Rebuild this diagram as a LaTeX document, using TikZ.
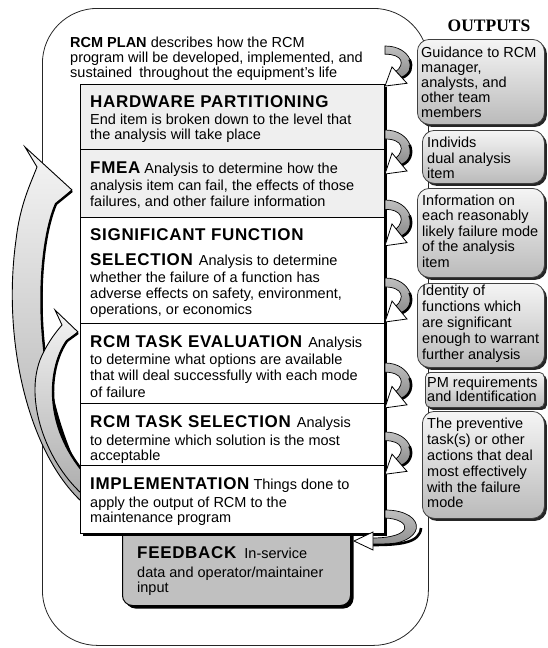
\documentclass[tikz,border=0pt]{standalone}
\usepackage{fontspec}
\setmainfont{Liberation Sans}
\newfontfamily\hfont{Liberation Sans}[LetterSpace=4]
\newfontfamily\outfont{Liberation Serif}
\usetikzlibrary{shadows}
\definecolor{hwgray}{HTML}{EFEFEF}
\definecolor{fbgray}{HTML}{C0C0C0}
\newcommand\hb[1]{{\hfont\fontsize{17}{18}\selectfont\bfseries #1}}
\newcommand\ltxt[4]{\node[txt] (#1) at (#2,#3) {#4};}
\newcommand\rarr[2]{%
\begin{scope}[shift={(386,#1)}, yscale=#2]
\shadedraw[top color=black!25, bottom color=black!45, draw=black, line width=0.7pt] (-1,0) .. controls (26,0) and (33,28) .. (16,35) -- (10,28) .. controls (19,20) and (17,9) .. (-1,9) -- cycle;
\draw[line width=2.6pt] (23.6,14.9) .. controls (27,22.75) and (24.5,31.5) .. (16,35);
\filldraw[fill=white, draw=black, line width=0.8pt] (6,23) -- (-1,44) -- (21,41) -- cycle;
\end{scope}}
\tikzset{
 txt/.style={anchor=base west, inner sep=0pt, font=\fontsize{14.5}{15}\selectfont},
 sect/.style={draw=black, line width=1pt, anchor=north west, minimum width=304pt, inner sep=0pt, outer sep=0pt},
 outbox/.style={draw=black!75, line width=0.8pt, rounded corners=12pt, top color=white!96!black, bottom color=black!27, anchor=north west, inner sep=0pt,
   drop shadow={shadow xshift=2.5pt, shadow yshift=-2.5pt, fill=black!85, opacity=1}},
 bigarrow/.style={top color=black!4, bottom color=black!32, draw=black, line width=0.9pt},
}
\begin{document}
\begin{tikzpicture}[x=1pt,y=-1pt]
\useasboundingbox (0,0) rectangle (547,648);
% outer frame
\node[draw=black!85, line width=0.8pt, rounded corners=55pt, minimum width=386pt, minimum height=637pt, anchor=north west, inner sep=0pt] (frame) at (42,8) {};
% OUTPUTS heading
\node[anchor=base, inner sep=0pt, font={\outfont\bfseries\fontsize{17.5}{18}\selectfont}] (outputs) at (489,31) {OUTPUTS};
% feedback box
\node[draw=black, line width=1pt, fill=fbgray, rounded corners=10pt, anchor=north west, minimum width=228pt, minimum height=88pt, inner sep=0pt,
  drop shadow={shadow xshift=3pt, shadow yshift=-3pt, fill=black, opacity=1}] (fbbox) at (122,517) {};
% big left arrows
\shadedraw[bigarrow] (82,502) .. controls (28,452) and (2,340) .. (16,240) .. controls (20,205) and (30,185) .. (37,167) -- (25,147) -- (72,190) -- (56,204) .. controls (36,250) and (30,380) .. (82,478) -- cycle;
\draw[line width=2.4pt] (72,191) -- (56,204) .. controls (36,250) and (30,380) .. (82,478);
\shadedraw[bigarrow] (82,494) .. controls (45,460) and (25,400) .. (40,360) .. controls (46,345) and (55,333) .. (62,325) -- (55,310) -- (78,332) -- (67,341) .. controls (50,365) and (42,420) .. (82,470) -- cycle;
\draw[line width=2.4pt] (78,333) -- (67,341) .. controls (50,365) and (42,420) .. (82,470);
% main stacked box
\fill (83,87) rectangle (387,536);
\node[sect, fill=hwgray, minimum height=65pt] (hw) at (80,84) {};
\node[sect, fill=hwgray, minimum height=68pt] (fmea) at (80,149) {};
\node[sect, fill=white, minimum height=106pt] (sig) at (80,217) {};
\node[sect, fill=white, minimum height=80pt] (te) at (80,323) {};
\node[sect, fill=white, minimum height=62pt] (ts) at (80,403) {};
\node[sect, fill=white, minimum height=68pt] (impl) at (80,465) {};
% output boxes
\node[outbox, minimum width=127pt, minimum height=85pt] (o1) at (417,39) {};
\node[outbox, minimum width=122pt, minimum height=53pt] (o2) at (422,130) {};
\node[outbox, minimum width=127pt, minimum height=89pt] (o3) at (417,188) {};
\node[outbox, minimum width=127pt, minimum height=84pt] (o4) at (417,283) {};
\node[outbox, rounded corners=5pt, minimum width=119pt, minimum height=35pt] (o5) at (425,372) {};
\node[outbox, minimum width=122pt, minimum height=107pt] (o6) at (422,411) {};
% right curved arrows
\rarr{46}{0.91}
\rarr{130}{1}
\rarr{200}{1.04}
\rarr{278}{1}
\rarr{363}{1.02}
\rarr{432}{0.96}
\shadedraw[top color=black!25, bottom color=black!45, draw=black, line width=0.7pt] (385,510) .. controls (428,510) and (430,547) .. (372,545) -- (372,538) .. controls (415,538) and (412,519) .. (385,518) -- cycle;
\draw[line width=2.6pt] (421,528) .. controls (420,543) and (400,545) .. (372,545);
\filldraw[fill=white, draw=black, line width=0.8pt] (373,532) -- (354,541) -- (373,550) -- cycle;
% texts
\ltxt{p1}{70}{47}{\textbf{RCM PLAN} describes how the RCM}
\ltxt{p2}{70}{62}{program will be developed, implemented, and}
\ltxt{p3}{70}{77}{sustained\hspace{3pt} throughout the equipment’s life}
\ltxt{hw1}{90}{107}{\hb{HARDWARE PARTITIONING}}
\ltxt{hw2}{90}{124}{End item is broken down to the level that}
\ltxt{hw3}{90}{139}{the analysis will take place}
\ltxt{fm1}{90}{173}{\hb{FMEA} Analysis to determine how the}
\ltxt{fm2}{90}{190}{analysis item can fail, the effects of those}
\ltxt{fm3}{90}{206}{failures, and other failure information}
\ltxt{sg1}{90}{240}{\hb{SIGNIFICANT FUNCTION}}
\ltxt{sg2}{90}{265}{\hb{SELECTION}\hspace{2pt} Analysis to determine}
\ltxt{sg3}{90}{282}{whether the failure of a function has}
\ltxt{sg4}{90}{298}{adverse effects on safety, environment,}
\ltxt{sg5}{90}{314}{operations, or economics}
\ltxt{te1}{90}{347}{\hb{RCM TASK EVALUATION}\hspace{2pt} Analysis}
\ltxt{te2}{90}{364}{to determine what options are available}
\ltxt{te3}{90}{380}{that will deal successfully with each mode}
\ltxt{te4}{90}{397}{of failure}
\ltxt{ts1}{90}{427}{\hb{RCM TASK SELECTION}\hspace{2pt} Analysis}
\ltxt{ts2}{90}{445}{to determine which solution is the most}
\ltxt{ts3}{90}{460}{acceptable}
\ltxt{im1}{90}{489}{\hb{IMPLEMENTATION} Things done to}
\ltxt{im2}{90}{507}{apply the output of RCM to the}
\ltxt{im3}{90}{522}{maintenance program}
\ltxt{fb1}{137}{558}{\hb{FEEDBACK}\hspace{8pt}In-service}
\ltxt{fb2}{137}{577}{data and operator/maintainer}
\ltxt{fb3}{137}{592}{input}
% output texts
\ltxt{a1}{421}{57}{Guidance to RCM}
\ltxt{a2}{421}{72}{manager,}
\ltxt{a3}{421}{87}{analysts, and}
\ltxt{a4}{421}{102}{other team}
\ltxt{a5}{421}{117}{members}
\ltxt{b1}{427}{147}{Individs}
\ltxt{b2}{427}{163}{dual analysis}
\ltxt{b3}{427}{178}{item}
\ltxt{c1}{422}{205}{Information on}
\ltxt{c2}{422}{220}{each reasonably}
\ltxt{c3}{422}{236}{likely failure mode}
\ltxt{c4}{422}{251}{of the analysis}
\ltxt{c5}{422}{267}{item}
\ltxt{d1}{422}{295}{Identity of}
\ltxt{d2}{422}{311}{functions which}
\ltxt{d3}{422}{327}{are significant}
\ltxt{d4}{422}{343}{enough to warrant}
\ltxt{d5}{422}{359}{further analysis}
\ltxt{e1}{427}{387}{PM requirements}
\ltxt{e2}{427}{401}{and Identification}
\ltxt{f1}{427}{428}{The preventive}
\ltxt{f2}{427}{444}{task(s) or other}
\ltxt{f3}{427}{460}{actions that deal}
\ltxt{f4}{427}{476}{most effectively}
\ltxt{f5}{427}{492}{with the failure}
\ltxt{f6}{427}{507}{mode}
\end{tikzpicture}
\end{document}
